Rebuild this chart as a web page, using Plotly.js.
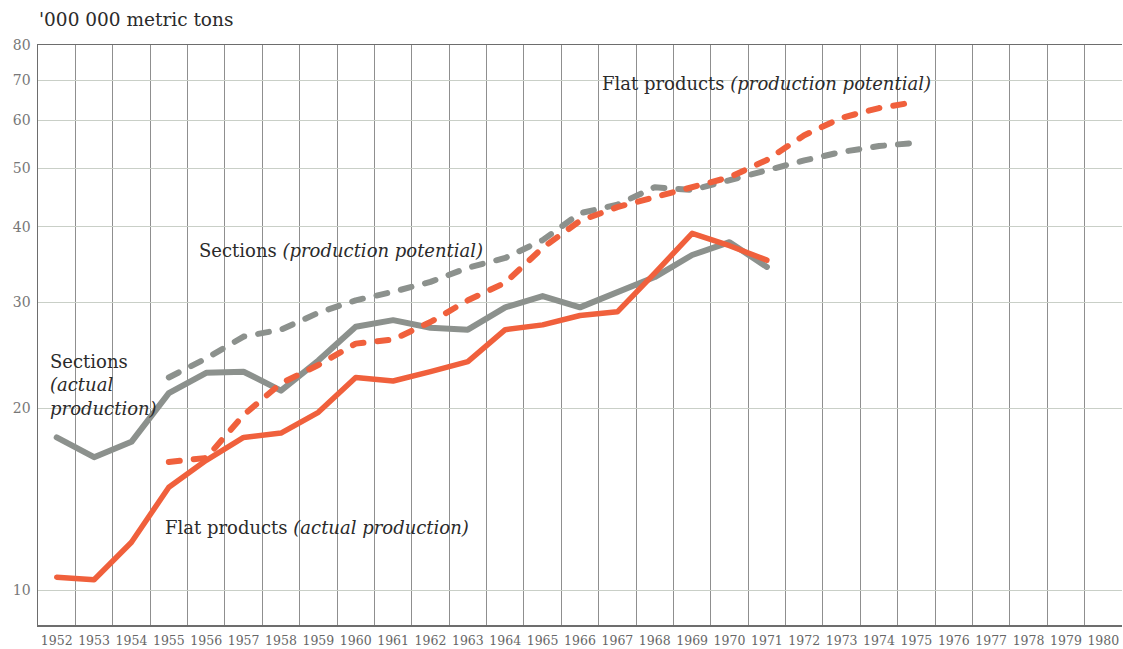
<!DOCTYPE html>
<html>
<head>
<meta charset="utf-8">
<script src="https://cdn.plot.ly/plotly-3.0.1.min.js"></script>
<style>
html,body{margin:0;padding:0;background:#fff;}
#chart{width:1123px;height:649px;}
.js-line{stroke-linecap:round;stroke-linejoin:round;}
</style>
</head>
<body>
<div id="chart"></div>
<script>
const years = [1952,1953,1954,1955,1956,1957,1958,1959,1960,1961,1962,1963,1964,1965,1966,1967,1968,1969,1970,1971];
const sectionsActual = [17.9,16.6,17.6,21.2,22.9,23.0,21.4,24.0,27.3,28.0,27.2,27.0,29.4,30.7,29.4,31.1,33.0,35.9,37.7,34.3];
const flatActual = [10.5,10.4,12.0,14.8,16.4,17.9,18.2,19.7,22.5,22.2,23.0,23.9,27.0,27.5,28.5,28.9,33.5,39.0,37.2,35.2];
const potYears = [1955,1956,1957,1958,1959,1960,1961,1962,1963,1964,1965,1966,1967,1968,1969,1970,1971,1972,1973,1974,1975];
const sectionsPotential = [22.5,24.2,26.3,27.0,28.8,30.2,31.2,32.4,34.2,35.5,38.0,42.1,43.5,46.5,46.0,47.8,49.5,51.5,53.2,54.4,55.1];
const flatPotential = [16.3,16.55,19.5,22.0,23.6,25.6,26.0,27.8,30.2,32.3,36.9,40.9,43.1,44.8,46.5,48.3,51.6,56.7,60.6,62.9,64.4];
const tickYears = [1952,1953,1954,1955,1956,1957,1958,1959,1960,1961,1962,1963,1964,1965,1966,1967,1968,1969,1970,1971,1972,1973,1974,1975,1976,1977,1978,1979,1980];
const yTicks = [10,20,30,40,50,60,70,80];

const RED = '#f0603c';
const GREY = '#8c918d';
const serif = '"DejaVu Serif", "Liberation Serif", serif';

const traces = [
  {x: years, y: sectionsActual, mode:'lines', line:{color:GREY, width:6}, name:'Sections (actual production)'},
  {x: years, y: flatActual, mode:'lines', line:{color:RED, width:5.5}, name:'Flat products (actual production)'},
  {x: potYears, y: sectionsPotential, mode:'lines', line:{color:GREY, width:6, dash:'11px,14px'}, name:'Sections (production potential)'},
  {x: potYears, y: flatPotential, mode:'lines', line:{color:RED, width:6, dash:'11px,14px'}, name:'Flat products (production potential)'}
];

const txt = {family: serif, size: 18, color: '#2b2b2b'};

const layout = {
  width:1123, height:649,
  margin:{l:38, r:1, t:45, b:24},
  paper_bgcolor:'#ffffff', plot_bgcolor:'#ffffff',
  showlegend:false,
  xaxis:{
    range:[1951.5,1980.5], tickmode:'array', tickvals: tickYears, ticktext: tickYears.map(String),
    showgrid:false, zeroline:false, ticks:'', ticklen:0, ticklabelstandoff:3,
    showline:true, linecolor:'#6d6d6d', linewidth:1.5, mirror:true,
    tickfont:{family: serif, size:12.5, color:'#666'},
    minor:{tickmode:'linear', tick0:1951.5, dtick:1, showgrid:true, gridcolor:'#8f8f8f', gridwidth:1, ticks:''}
  },
  yaxis:{
    type:'log', range:[Math.log10(8.75), Math.log10(80)],
    tickmode:'array', tickvals:yTicks, ticktext:yTicks.map(String),
    showgrid:true, gridcolor:'#c9cfc7', gridwidth:1, zeroline:false,
    showline:true, linecolor:'#6d6d6d', linewidth:1.5, ticks:'', ticklen:0, ticklabelstandoff:3,
    tickfont:{family: serif, size:14, color:'#777'}
  },
  annotations:[
    {xref:'paper', yref:'paper', x:0, y:1+(45-20)/580, xanchor:'left', yanchor:'middle', showarrow:false,
     text:"'000 000 metric tons", font:{family: serif, size:18.5, color:'#2b2b2b'}, xshift:-1},
    {x:1955.75, y:Math.log10(36.5), xanchor:'left', yanchor:'middle', showarrow:false,
     text:'Sections <i>(production potential)</i>', font:txt},
    {x:1966.53, y:Math.log10(69.2), xanchor:'left', yanchor:'middle', showarrow:false,
     text:'Flat products <i>(production potential)</i>', font:txt},
    {x:1951.77, y:Math.log10(21.9), xanchor:'left', yanchor:'middle', showarrow:false, align:'left',
     text:'Sections<br><i>(actual<br>production)</i>', font:txt},
    {x:1954.84, y:Math.log10(12.67), xanchor:'left', yanchor:'middle', showarrow:false,
     text:'Flat products <i>(actual production)</i>', font:txt}
  ]
};

Plotly.newPlot('chart', traces, layout, {displayModeBar:false, staticPlot:true});
</script>
</body>
</html>
